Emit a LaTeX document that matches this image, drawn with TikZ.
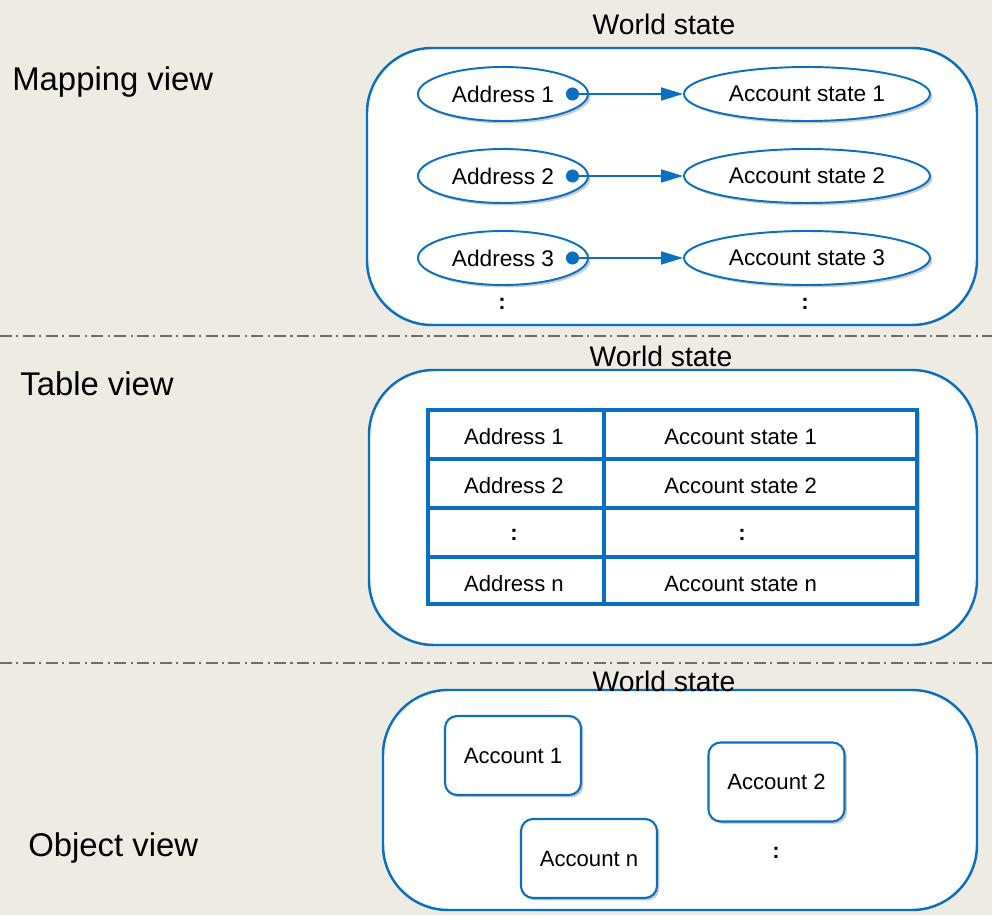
\documentclass[tikz,border=0pt]{standalone}
\usepackage{fontspec}
\setmainfont{Liberation Sans}
\usetikzlibrary{arrows.meta,shapes.geometric,shadows,positioning}
\definecolor{paper}{HTML}{EEEBE4}
\definecolor{ink}{HTML}{0B6FBF}
\definecolor{rulegray}{HTML}{6E6E68}
\tikzset{every node/.append style={transform shape=false}}
\tikzset{
  world/.style={draw=ink,line width=1.4pt,fill=white,rounded corners=1.3cm},
  soft/.style={drop shadow={shadow xshift=0.05cm,shadow yshift=-0.05cm,opacity=0.2,fill=black}},
  keyell/.style={ellipse,draw=ink,line width=1.1pt,fill=white,soft,inner sep=0pt,
    minimum width=3.4cm,minimum height=1.08cm,font=\fontsize{12.9}{15}\selectfont},
  valell/.style={keyell,minimum width=4.92cm},
  acct/.style={draw=ink,line width=1.2pt,fill=white,soft,rounded corners=0.24cm,
    minimum width=2.72cm,minimum height=1.58cm,font=\fontsize{12.6}{15}\selectfont},
  grid/.style={draw=ink,line width=2pt},
  cell/.style={font=\fontsize{12.6}{15}\selectfont,inner sep=0pt},
  link/.style={draw=ink,line width=0.9pt,{Circle[length=0.26cm]}-{Triangle[length=0.44cm,width=0.26cm]}},
  title/.style={font=\fontsize{16.1}{19}\selectfont,inner sep=0pt},
  view/.style={font=\fontsize{18.7}{22}\selectfont,inner sep=0pt,anchor=west},
  dots/.style={font=\fontsize{12.6}{15}\selectfont\bfseries,inner sep=0pt},
  sep/.style={draw=rulegray,line width=1.1pt,dash pattern=on 6.8pt off 2.5pt on 1.2pt off 2.5pt}
}

\begin{document}
\begin{tikzpicture}[x=0.02cm,y=-0.02cm]
  \useasboundingbox[fill=paper] (0,0) rectangle (992,915);
  \coordinate (sepa) at (0,336);  \coordinate (sepb) at (992,336);
  \coordinate (sepc) at (0,663);  \coordinate (sepd) at (992,663);
  \draw[sep] (sepa) -- (sepb);
  \draw[sep] (sepc) -- (sepd);

  \node[view] (mapview) at (12,82) {Mapping view};
  \draw[world] (367,48) rectangle (977,325);
  \node[title] (mapws) at (664,24) {World state};
  \foreach \i/\y in {1/94,2/176,3/258} {
    \node[keyell] (addr\i) at (503,\y) {Address \i};
    \node[valell] (acst\i) at (807,\y) {Account state \i};
    \coordinate (dot\i) at (566,\y);
    \draw[link] (dot\i) -- (acst\i.west);
  }
  \node[dots] (mapdl) at (502,304) {:};
  \node[dots] (mapdr) at (805,304) {:};

  \node[view] (tabview) at (20,384) {Table view};
  \draw[world] (369,370) rectangle (977,645);
  \node[title] (tabws) at (661,356) {World state};
  \draw[grid,fill=white,soft] (428,410) rectangle (917,604);
  \foreach \y in {459,508,557}
    \draw[grid] (428,\y) -- (917,\y);
  \draw[grid] (604,410) -- (604,604);
  \foreach \i/\y in {1/437,2/486}{
    \node[cell] (tadr\i) at (514,\y) {Address \i};
    \node[cell,anchor=west] (tacs\i) at (664,\y) {Account state \i};
  }
  \node[dots] (tabdl) at (514,535) {:};
  \node[dots] (tabdr) at (742,535) {:};
  \node[cell] (tadrn) at (514,584) {Address n};
  \node[cell,anchor=west] (tacsn) at (664,584) {Account state n};

  \node[view] (objview) at (28,848) {Object view};
  \draw[world] (383,690) rectangle (977,910);
  \node[title] (objws) at (664,681) {World state};
  \node[acct] (acc1) at (513,755.5) {Account 1};
  \node[acct] (acc2) at (776.5,782) {Account 2};
  \node[acct] (accn) at (589,858.5) {Account n};
  \node[dots] (objd) at (776,853) {:};
\end{tikzpicture}
\end{document}
